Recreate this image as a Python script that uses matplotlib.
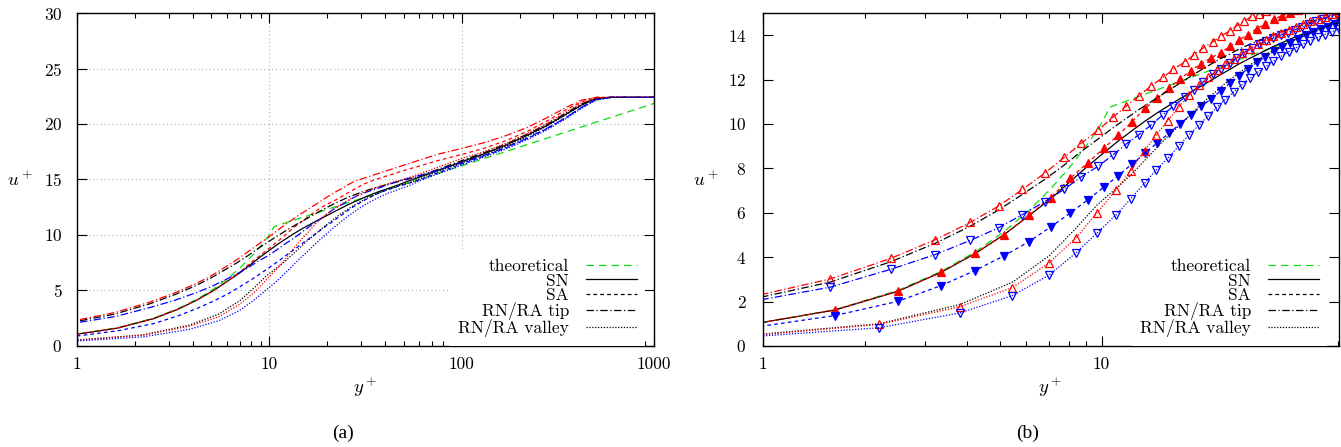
import matplotlib
matplotlib.use('Agg')
import matplotlib.pyplot as plt
from matplotlib.lines import Line2D
from matplotlib.ticker import FormatStrFormatter, NullFormatter

plt.rcParams['font.family'] = 'cmr10'
plt.rcParams['mathtext.fontset'] = 'cm'
plt.rcParams['axes.unicode_minus'] = False
plt.rcParams['axes.formatter.use_mathtext'] = True

# wall-normal positions (wall units) of the three sampling lines
yp_wall = [0.78, 1.63, 2.5, 3.36, 4.23, 5.15, 6.1, 7.07, 8.07, 9.1,
           10.15, 11.2, 12.3, 13.45, 14.6, 15.8, 17.05, 18.35, 19.7, 21.1,
           22.5, 24.0, 25.5, 27.1, 28.8, 30.5, 32.3, 34.1, 36.0, 38.0,
           40.1, 42.2, 44.4, 46.7, 49.1, 51.6,
           60, 75, 100, 130, 170, 220, 280, 350, 420, 500, 600, 1000]
yp_tip = [0.75, 1.58, 2.39, 3.23, 4.1, 4.97, 5.84, 6.79, 7.76, 8.71,
          9.78, 10.8, 11.83, 12.9, 14.0, 15.2, 16.3, 17.6, 18.8, 20.0,
          21.3, 22.5, 23.9, 25.1, 26.4, 27.8, 29.2, 30.7, 32.2, 33.8,
          35.5, 37.2, 39.0, 40.9, 42.9, 45.0, 47.2, 49.5, 51.9,
          60, 75, 100, 130, 170, 220, 280, 350, 420, 500, 600, 1000]
yp_valley = [0.58, 2.2, 3.82, 5.45, 7.0, 8.4, 9.7, 11.05, 12.2, 13.4,
             14.5, 15.7, 16.9, 18.1, 19.4, 20.6, 21.9, 23.2, 24.6, 26.0,
             27.5, 29.0, 30.6, 32.2, 33.9, 35.7, 37.5, 39.4, 41.4, 43.5,
             45.6, 47.9, 50.2, 52.6,
             60, 75, 100, 130, 170, 220, 280, 350, 420, 500, 600, 1000]
yp_theory = [0.78, 1.63, 2.5, 3.36, 4.23, 5.15, 6.1, 7.07, 8.07, 9.1, 9.8,
             10.6, 11.6, 12.9, 15.2, 20.3, 26.0, 32.4, 41.5, 52.0,
             70, 100, 150, 200, 300, 500, 700, 1000]

# mean streamwise velocity u+
u_theory = [0.78, 1.63, 2.5, 3.36, 4.23, 5.15, 6.1, 7.07, 8.07, 9.1, 9.8,
            10.76, 10.98, 11.24, 11.64, 12.34, 12.95, 13.48, 14.09, 14.64,
            15.36, 16.23, 17.22, 17.92, 18.91, 20.16, 20.98, 21.85]

u_sn = [0.78, 1.62, 2.46, 3.32, 4.16, 5.01, 5.87, 6.62, 7.4, 8.1,
        8.7, 9.23, 9.7, 10.13, 10.5, 10.83, 11.14, 11.43, 11.71, 11.97,
        12.23, 12.47, 12.71, 12.92, 13.12, 13.31, 13.5, 13.66, 13.82, 13.97,
        14.1, 14.23, 14.37, 14.5, 14.65, 14.8,
        15.2, 15.8, 16.6, 17.3, 18.1, 19.0, 19.9, 20.9, 21.7, 22.3, 22.4, 22.4]
u_sa_red = [0.78, 1.62, 2.47, 3.32, 4.17, 5.02, 5.88, 6.68, 7.55, 8.25,
            8.9, 9.5, 10.1, 10.7, 11.15, 11.6, 12.03, 12.4, 12.72, 12.98,
            13.22, 13.5, 13.78, 14.03, 14.3, 14.52, 14.72, 14.88, 15.02, 15.15,
            15.28, 15.4, 15.52, 15.64, 15.76, 15.88,
            16.2, 16.7, 17.25, 17.8, 18.5, 19.35, 20.3, 21.3, 22.0, 22.4, 22.4, 22.4]
u_sa_blue = [0.66, 1.37, 2.01, 2.72, 3.4, 4.06, 4.7, 5.36, 5.98, 6.58,
             7.15, 7.67, 8.2, 8.68, 9.15, 9.58, 10.0, 10.4, 10.8, 11.13,
             11.5, 11.85, 12.18, 12.5, 12.78, 13.03, 13.27, 13.48, 13.67, 13.84,
             14.0, 14.13, 14.26, 14.38, 14.49, 14.6,
             14.95, 15.6, 16.4, 17.1, 17.85, 18.7, 19.6, 20.6, 21.5, 22.2, 22.4, 22.4]

u_tip_black = [1.8, 2.88, 3.8, 4.63, 5.4, 6.13, 6.83, 7.5, 8.15, 8.76,
               9.33, 9.82, 10.25, 10.65, 11.0, 11.35, 11.65, 11.97, 12.25, 12.5,
               12.74, 12.95, 13.15, 13.32, 13.48, 13.63, 13.77, 13.9, 14.02, 14.14,
               14.25, 14.35, 14.45, 14.55, 14.65, 14.74, 14.83, 14.92, 15.0,
               15.3, 15.9, 16.7, 17.4, 18.2, 19.1, 20.0, 21.0, 21.8, 22.35, 22.4, 22.4]
u_tip_red = [1.9, 3.02, 3.95, 4.79, 5.57, 6.31, 7.05, 7.78, 8.5, 9.13,
             9.73, 10.3, 10.81, 11.27, 11.71, 12.1, 12.46, 12.79, 13.13, 13.43,
             13.7, 13.96, 14.19, 14.43, 14.64, 14.85, 14.97, 15.09, 15.21, 15.33,
             15.45, 15.56, 15.68, 15.8, 15.91, 16.03, 16.15, 16.26, 16.38,
             16.73, 17.27, 17.8, 18.3, 18.95, 19.7, 20.6, 21.5, 22.15, 22.4, 22.4, 22.4]
u_tip_blue = [1.75, 2.65, 3.46, 4.12, 4.76, 5.33, 5.92, 6.5, 7.06, 7.62,
              8.1, 8.6, 9.1, 9.52, 9.95, 10.42, 10.8, 11.2, 11.55, 11.9,
              12.25, 12.5, 12.75, 12.98, 13.22, 13.42, 13.6, 13.75, 13.88, 14.0,
              14.12, 14.24, 14.36, 14.5, 14.62, 14.74, 14.86, 14.97, 15.07,
              15.35, 15.85, 16.5, 17.15, 17.9, 18.75, 19.65, 20.6, 21.5, 22.2, 22.4, 22.4]

u_valley_black = [0.22, 1.0, 1.87, 2.87, 4.06, 5.3, 6.35, 7.1, 7.7, 8.35,
                  8.9, 9.45, 9.9, 10.35, 10.8, 11.15, 11.5, 11.83, 12.13, 12.4,
                  12.66, 12.9, 13.12, 13.32, 13.5, 13.67, 13.83, 13.98, 14.12, 14.25,
                  14.37, 14.48, 14.58, 14.68,
                  15.05, 15.7, 16.5, 17.2, 18.0, 18.9, 19.85, 20.85, 21.7, 22.3, 22.4, 22.4]
u_valley_red = [0.2, 0.97, 1.77, 2.63, 3.74, 4.87, 6.0, 7.03, 7.9, 8.8,
                9.5, 10.15, 10.75, 11.3, 11.75, 12.1, 12.42, 12.7, 12.95, 13.18,
                13.4, 13.6, 13.78, 13.95, 14.1, 14.25, 14.38, 14.5, 14.62, 14.73,
                14.84, 14.95, 15.05, 15.15,
                15.5, 16.1, 16.9, 17.5, 18.25, 19.15, 20.1, 21.1, 21.9, 22.35, 22.4, 22.4]
u_valley_blue = [0.2, 0.82, 1.49, 2.27, 3.19, 4.19, 5.09, 5.91, 6.63, 7.33,
                 7.93, 8.46, 9.01, 9.5, 9.95, 10.35, 10.75, 11.1, 11.45, 11.77,
                 12.07, 12.35, 12.6, 12.83, 13.05, 13.25, 13.43, 13.6, 13.76, 13.9,
                 14.03, 14.16, 14.28, 14.4,
                 14.85, 15.5, 16.3, 17.0, 17.75, 18.6, 19.5, 20.5, 21.4, 22.15, 22.4, 22.4]

legend_labels = ['theoretical', 'SN', 'SA', 'RN/RA tip', 'RN/RA valley']

GREEN = '#10dc10'
LS_THEORY = (0, (6, 4))
LS_SA = (0, (3, 2.5))
LS_TIP = (0, (6, 2, 1, 2))
LS_VALLEY = (0, (1, 1.3))
LW = 0.9
FS = 12.5

curves = [
    (yp_theory, u_theory, GREEN, LS_THEORY, None, False),
    (yp_wall, u_sn, 'k', '-', None, False),
    (yp_wall, u_sa_red, 'r', LS_SA, '^', True),
    (yp_wall, u_sa_blue, 'b', LS_SA, 'v', True),
    (yp_tip, u_tip_black, 'k', LS_TIP, None, False),
    (yp_tip, u_tip_red, 'r', LS_TIP, '^', False),
    (yp_tip, u_tip_blue, 'b', LS_TIP, 'v', False),
    (yp_valley, u_valley_black, 'k', LS_VALLEY, None, False),
    (yp_valley, u_valley_red, 'r', LS_VALLEY, '^', False),
    (yp_valley, u_valley_blue, 'b', LS_VALLEY, 'v', False),
]


def draw_profiles(ax, markers):
    for y, u, c, ls, m, filled in curves:
        kw = dict(color=c, ls=ls, lw=LW)
        if markers and m:
            kw.update(marker=m, ms=5.5, mew=0.9, mec=c, mfc=c if filled else 'none')
        ax.plot(y, u, **kw)


def style_axes(ax, xmax, ymax, yticks, ypad):
    ax.set_xscale('log')
    ax.set_xlim(1, xmax)
    ax.set_ylim(0, ymax)
    ax.set_yticks(yticks)
    ax.tick_params(which='both', direction='in', top=True, right=True,
                   width=0.8, labelsize=FS)
    ax.tick_params(which='major', length=7)
    ax.tick_params(which='minor', length=3.5)
    ax.tick_params(axis='x', pad=8)
    ax.tick_params(axis='y', pad=ypad)
    ax.xaxis.set_major_formatter(FormatStrFormatter('%g'))
    ax.xaxis.set_minor_formatter(NullFormatter())
    for s in ax.spines.values():
        s.set_linewidth(1.0)
    ax.set_xlabel('$y^+$', fontsize=FS + 1)
    ax.xaxis.label.set_va('center')
    ax.xaxis.set_label_coords(0.499, -0.123)
    ax.set_ylabel('$u^+$', fontsize=FS + 1, rotation=0, va='center', ha='center')
    ax.yaxis.set_label_coords(-0.099, 0.5)


def add_legend(ax, anchor_x):
    handles = [Line2D([], [], color=GREEN, ls=LS_THEORY, lw=LW),
               Line2D([], [], color='k', ls='-', lw=LW),
               Line2D([], [], color='k', ls=LS_SA, lw=LW),
               Line2D([], [], color='k', ls=LS_TIP, lw=LW),
               Line2D([], [], color='k', ls=LS_VALLEY, lw=LW)]
    leg = ax.legend(handles, legend_labels, loc='lower right',
                    bbox_to_anchor=(anchor_x, 0.0), borderaxespad=0,
                    markerfirst=False, frameon=True, fancybox=False,
                    edgecolor='none', facecolor='white', framealpha=1,
                    handlelength=2.9, handletextpad=1.0, labelspacing=-0.05,
                    borderpad=0.5, fontsize=FS)
    leg.set_zorder(5)


fig = plt.figure(figsize=(13.41, 4.47), dpi=100)
ax_a = fig.add_axes([0.0574, 0.2260, 0.4303, 0.7449])
ax_b = fig.add_axes([0.5690, 0.2260, 0.4295, 0.7449])

# (a) full profiles with grid
draw_profiles(ax_a, markers=False)
style_axes(ax_a, 1000, 30, [0, 5, 10, 15, 20, 25, 30], 10.5)
ax_a.set_axisbelow(True)
ax_a.grid(True, which='major', color='#b4b4b4', ls=(0, (1, 2.5)), lw=0.8)
add_legend(ax_a, 0.985)

# (b) near-wall close-up with markers
draw_profiles(ax_b, markers=True)
style_axes(ax_b, 50.3, 15, [0, 2, 4, 6, 8, 10, 12, 14], 12)
add_legend(ax_b, 0.98)

fig.text(343 / 1341, 1 - 433 / 447, '(a)', ha='center', va='center',
         family='Liberation Serif', fontsize=14)
fig.text(1028 / 1341, 1 - 433 / 447, '(b)', ha='center', va='center',
         family='Liberation Serif', fontsize=14)

fig.savefig('out.png', dpi=100)
